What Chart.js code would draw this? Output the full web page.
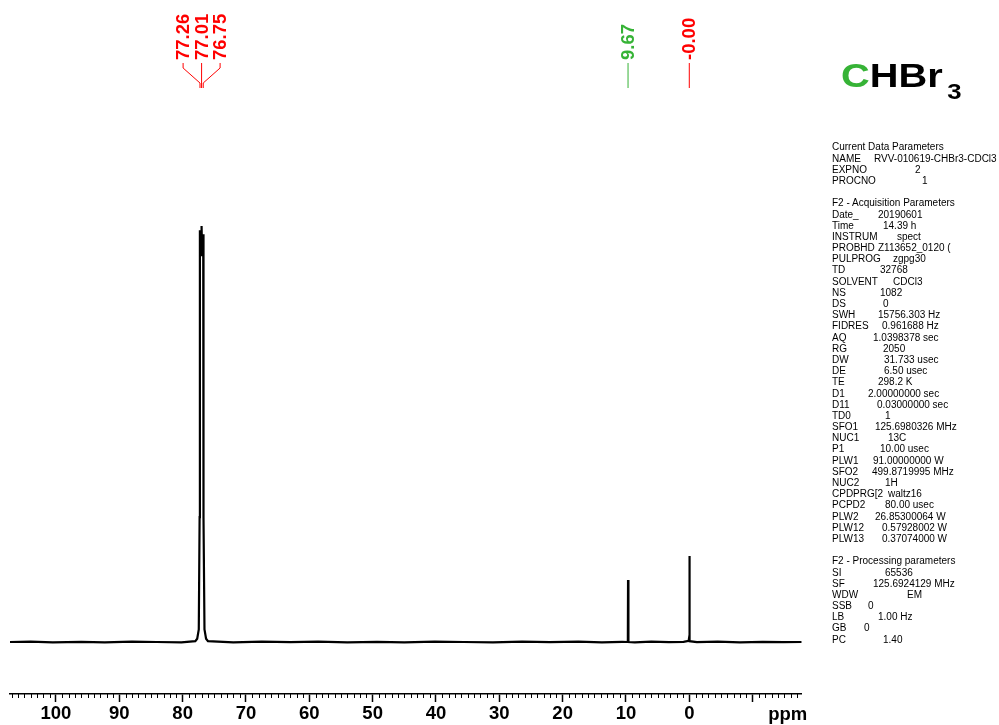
<!DOCTYPE html>
<html>
<head>
<meta charset="utf-8">
<script src="https://cdn.jsdelivr.net/npm/chart.js@4.4.1/dist/chart.umd.min.js"></script>
<style>
  body { margin:0; background:#fff; }
  #wrap { position:relative; width:999px; height:725px; overflow:hidden; }
  #chart { position:absolute; left:0; top:0; }
  #title { position:absolute; left:841px; top:58px; font:bold 34px "Liberation Sans", Arial, sans-serif; line-height:34px; white-space:nowrap;
           transform:scaleX(1.17); transform-origin:0 0; }
  #title .c { color:#36b336; }
  #title .s { position:relative; top:12.3px; font-size:22px; margin-left:4px; }
  #params { position:absolute; left:832px; top:141.4px; font:10px "Liberation Sans", Arial, sans-serif; color:#000; }
  .row { position:relative; height:11.2px; line-height:11.2px; white-space:nowrap; }
  .row .v { position:absolute; top:0; }
</style>
</head>
<body>
<div id="wrap">
  <canvas id="chart" width="999" height="725"></canvas>
  <div id="title"><span class="c">C</span>HBr<span class="s">3</span></div>
  <div id="params"></div>
</div>
<script>
// spectrum (ppm / relative intensity)
const ppm = [107.26, 104.0, 100.5, 96.0, 92.3, 88.0, 84.1, 80.2, 78.0, 77.7, 77.45, 77.32, 77.29, 77.26, 77.20, 77.10, 77.01, 76.92, 76.82, 76.75, 76.72, 76.69, 76.55, 76.3, 76.0,
  72.0, 67.5, 63.0, 58.6, 54.0, 49.3, 45.0, 40.2, 35.6, 31.0, 26.4, 22.0, 17.5, 13.8, 10.6, 9.76, 9.70, 9.67, 9.64, 9.58, 8.6, 6.0, 3.2, 0.9,
  0.10, 0.03, 0.00, -0.03, -0.10, -1.2, -4.5, -8.0, -11.6, -14.9, -17.75];
const intensity = [0, 0.1, -0.1, 0.05, -0.1, 0.1, 0, -0.1, 0.2, 0.8, 3, 30, 90, 99, 94, 93, 100, 93, 94, 98, 90, 30, 3, 0.8, 0.2,
  -0.1, 0.1, -0.05, 0.1, -0.1, 0.05, -0.1, 0.1, 0, -0.1, 0.1, -0.05, 0.1, -0.1, 0.05, 0, 0.2, 14.9, 0.2, 0, -0.1, 0.1, -0.05, 0.05,
  0.3, 1, 20.7, 1, 0.2, -0.05, 0.1, -0.1, 0.05, -0.05, 0];

// peak picking
const peakPpm = [77.26, 77.01, 76.75, 9.67, 0.00];
const peakLabels = ["77.26", "77.01", "76.75", "9.67", "-0.00"];
const peakColors = ["#ff0000", "#ff0000", "#ff0000", "#36b336", "#ff0000"];

// parameter block
const paramLabels = ["Current Data Parameters", "NAME", "EXPNO", "PROCNO", "",
  "F2 - Acquisition Parameters", "Date_", "Time", "INSTRUM", "PROBHD", "PULPROG", "TD", "SOLVENT", "NS", "DS", "SWH", "FIDRES", "AQ", "RG", "DW", "DE", "TE", "D1", "D11", "TD0",
  "SFO1", "NUC1", "P1", "PLW1", "SFO2", "NUC2", "CPDPRG[2", "PCPD2", "PLW2", "PLW12", "PLW13", "",
  "F2 - Processing parameters", "SI", "SF", "WDW", "SSB", "LB", "GB", "PC"];
const paramValues = ["", "RVV-010619-CHBr3-CDCl3", "2", "1", "",
  "", "20190601", "14.39 h", "spect", "Z113652_0120 (", "zgpg30", "32768", "CDCl3", "1082", "0", "15756.303 Hz", "0.961688 Hz", "1.0398378 sec", "2050", "31.733 usec", "6.50 usec", "298.2 K", "2.00000000 sec", "0.03000000 sec", "1",
  "125.6980326 MHz", "13C", "10.00 usec", "91.00000000 W", "499.8719995 MHz", "1H", "waltz16", "80.00 usec", "26.85300064 W", "0.57928002 W", "0.37074000 W", "",
  "", "65536", "125.6924129 MHz", "EM", "0", "1.00 Hz", "0", "1.40"];
const paramOffsets = [0, 42, 83, 90, 0,
  0, 46, 51, 65, 46, 61, 48, 61, 48, 51, 46, 50, 41, 51, 52, 52, 46, 36, 45, 53,
  43, 56, 48, 41, 40, 53, 56, 53, 43, 50, 50, 0,
  0, 53, 41, 75, 36, 46, 32, 51];

const FONT = '"Liberation Sans", Arial, sans-serif';

const box = document.getElementById("params");
paramLabels.forEach((lab, i) => {
  const row = document.createElement("div");
  row.className = "row";
  row.innerHTML = `<span>${lab}</span>` + (paramValues[i] ? `<span class="v" style="left:${paramOffsets[i]}px">${paramValues[i]}</span>` : "");
  if (!lab) row.innerHTML = "&nbsp;";
  box.appendChild(row);
});

const nmrDecor = {
  id: "nmrDecor",
  afterDraw(chart) {
    const ctx = chart.ctx;
    const xs = chart.scales.x;
    const area = chart.chartArea;

    // minor ticks every 1 ppm
    ctx.save();
    ctx.strokeStyle = "#000";
    ctx.lineWidth = 1;
    for (let v = Math.ceil(xs.min); v <= Math.floor(xs.max); v++) {
      if (v % 10 === 0) continue;
      const px = Math.round(xs.getPixelForValue(v)) + 0.5;
      ctx.beginPath();
      ctx.moveTo(px, area.bottom);
      ctx.lineTo(px, area.bottom + 4);
      ctx.stroke();
    }
    // unit label
    ctx.fillStyle = "#000";
    ctx.font = "bold 18.5px " + FONT;
    ctx.textAlign = "center";
    ctx.textBaseline = "middle";
    ctx.fillText("ppm", area.right - 14, 715);
    ctx.restore();

    // peak labels, spread out when crowded
    const px = peakPpm.map(p => xs.getPixelForValue(p));
    const order = px.map((p, i) => i).sort((a, b) => px[a] - px[b]);
    const lx = new Array(px.length);
    let cluster = [];
    const flush = () => {
      const c = cluster.reduce((s, i) => s + px[i], 0) / cluster.length;
      cluster.forEach((i, k) => { lx[i] = c + (k - (cluster.length - 1) / 2) * 18.5; });
      cluster = [];
    };
    order.forEach(i => {
      if (cluster.length && px[i] - px[cluster[cluster.length - 1]] > 18) flush();
      cluster.push(i);
    });
    if (cluster.length) flush();

    ctx.save();
    ctx.font = "bold 18.5px " + FONT;
    ctx.textBaseline = "middle";
    ctx.textAlign = "left";
    peakLabels.forEach((t, i) => {
      ctx.fillStyle = peakColors[i];
      ctx.strokeStyle = peakColors[i];
      ctx.save();
      ctx.translate(lx[i], 60);
      ctx.rotate(-Math.PI / 2);
      ctx.fillText(t, 0, 1);
      ctx.restore();
      ctx.lineWidth = 1;
      ctx.beginPath();
      ctx.moveTo(lx[i], 63);
      ctx.lineTo(lx[i], 68);
      ctx.lineTo(px[i], 83);
      ctx.lineTo(px[i], 88);
      ctx.stroke();
    });
    ctx.restore();
  }
};

new Chart(document.getElementById("chart"), {
  type: "line",
  data: {
    datasets: [{
      data: ppm.map((x, i) => ({ x: x, y: intensity[i] })),
      borderColor: "#000",
      borderWidth: 2.2,
      pointRadius: 0,
      tension: 0,
      fill: false
    }]
  },
  options: {
    responsive: false,
    animation: false,
    layout: { padding: { left: 10, right: 197.3, top: 100, bottom: 0 } },
    plugins: { legend: { display: false }, tooltip: { enabled: false } },
    scales: {
      x: {
        type: "linear",
        reverse: true,
        min: -17.75,
        max: 107.26,
        afterFit: s => { s.height = 31; },
        border: { display: true, color: "#000", width: 1.5 },
        grid: {
          drawOnChartArea: false,
          drawTicks: true,
          tickLength: 8,
          tickWidth: 1.5,
          tickColor: c => (c.tick && c.tick.value % 10 === 0) ? "#000" : "rgba(0,0,0,0)"
        },
        ticks: {
          stepSize: 1,
          autoSkip: false,
          maxRotation: 0,
          padding: 3,
          color: "#000",
          font: { family: FONT, size: 18.5, weight: "bold", lineHeight: 1 },
          callback: v => (v % 10 === 0 && v >= 0) ? String(v) : ""
        }
      },
      y: { display: false, min: -12.5, max: 130.3 }
    }
  },
  plugins: [nmrDecor]
});
</script>
</body>
</html>
